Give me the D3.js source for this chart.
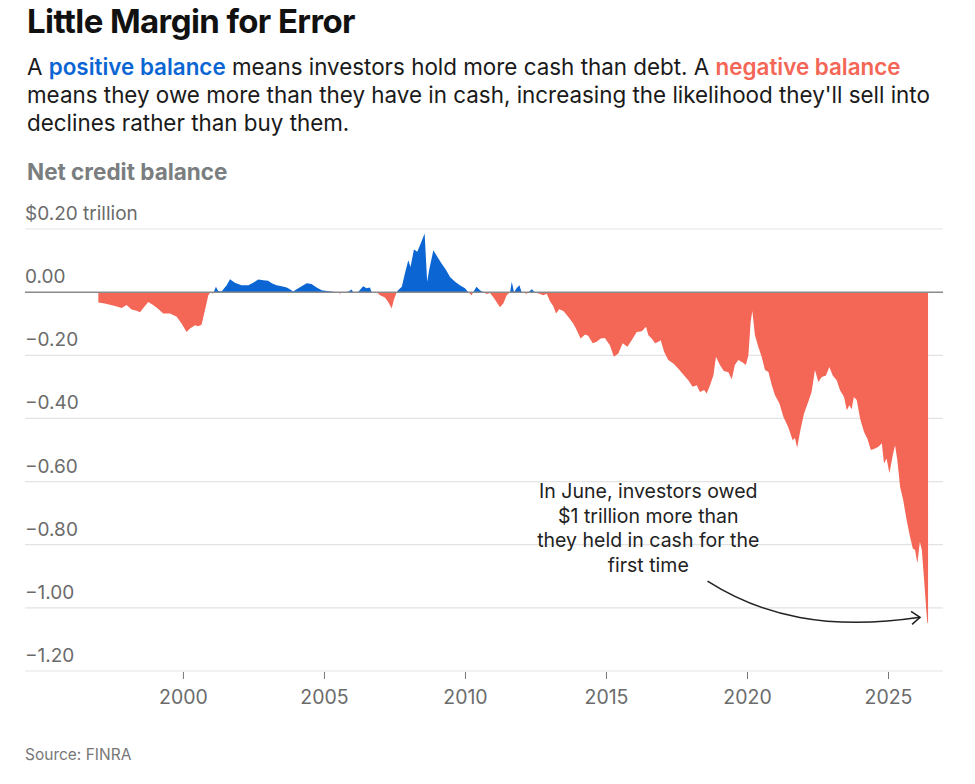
<!DOCTYPE html>
<html>
<head>
<meta charset="utf-8">
<script src="https://cdn.jsdelivr.net/npm/d3@7"></script>
<style>
  body { margin: 0; background: #fff; }
  svg { display: block; font-family: Inter, Roboto, "Noto Sans", sans-serif; }
</style>
</head>
<body>
<svg id="chart" width="975" height="784"></svg>
<script>
// monthly-ish readings of the net credit balance, $ trillion
const years = [
  1997.00, 1997.23, 1997.59, 1997.83, 1998.00, 1998.18, 1998.36, 1998.48, 1998.58, 1998.77,
  1998.94, 1999.11, 1999.30, 1999.54, 1999.78, 1999.95, 2000.13, 2000.25, 2000.43, 2000.54,
  2000.66, 2000.78, 2000.90, 2000.98, 2001.07, 2001.17, 2001.25, 2001.37, 2001.55, 2001.67,
  2001.84, 2002.08, 2002.32, 2002.49, 2002.67, 2002.85, 2003.02, 2003.15, 2003.32, 2003.50,
  2003.68, 2003.79, 2003.91, 2004.03, 2004.21, 2004.39, 2004.56, 2004.74, 2004.92, 2005.10,
  2005.27, 2005.45, 2005.57, 2005.68, 2005.86, 2005.98, 2006.04, 2006.22, 2006.39, 2006.51,
  2006.63, 2006.69, 2006.87, 2006.99, 2007.16, 2007.28, 2007.40, 2007.48, 2007.58, 2007.63,
  2007.76, 2007.87, 2007.99, 2008.07, 2008.19, 2008.31, 2008.43, 2008.57, 2008.62, 2008.66,
  2008.73, 2008.88, 2009.02, 2009.17, 2009.33, 2009.47, 2009.65, 2009.82, 2010.00, 2010.12,
  2010.24, 2010.29, 2010.41, 2010.53, 2010.65, 2010.77, 2010.89, 2011.00, 2011.12, 2011.24,
  2011.36, 2011.48, 2011.60, 2011.66, 2011.74, 2011.83, 2011.93, 2012.01, 2012.19, 2012.37,
  2012.48, 2012.66, 2012.78, 2012.90, 2013.01, 2013.13, 2013.23, 2013.34, 2013.49, 2013.66,
  2013.84, 2013.96, 2014.10, 2014.26, 2014.37, 2014.53, 2014.67, 2014.81, 2014.96, 2015.14,
  2015.28, 2015.44, 2015.59, 2015.76, 2015.91, 2016.09, 2016.27, 2016.42, 2016.50, 2016.62,
  2016.74, 2016.86, 2016.94, 2017.06, 2017.21, 2017.39, 2017.56, 2017.74, 2017.92, 2018.07,
  2018.22, 2018.33, 2018.48, 2018.57, 2018.69, 2018.81, 2018.90, 2019.04, 2019.18, 2019.34,
  2019.46, 2019.57, 2019.69, 2019.85, 2019.96, 2020.05, 2020.13, 2020.19, 2020.28, 2020.40,
  2020.52, 2020.64, 2020.76, 2020.88, 2020.99, 2021.15, 2021.29, 2021.46, 2021.62, 2021.70,
  2021.78, 2021.88, 2022.02, 2022.17, 2022.29, 2022.41, 2022.53, 2022.65, 2022.80, 2022.92,
  2023.04, 2023.18, 2023.30, 2023.44, 2023.54, 2023.63, 2023.71, 2023.79, 2023.89, 2024.01,
  2024.15, 2024.27, 2024.39, 2024.54, 2024.66, 2024.78, 2024.86, 2024.95, 2025.05, 2025.17,
  2025.25, 2025.33, 2025.43, 2025.54, 2025.66, 2025.78, 2025.88, 2025.96, 2026.04, 2026.13,
  2026.20, 2026.28, 2026.35, 2026.39, 2026.42
]
const balance = [
  -0.033, -0.036, -0.044, -0.050, -0.041, -0.055, -0.059, -0.064, -0.052, -0.031,
  -0.041, -0.052, -0.068, -0.068, -0.078, -0.099, -0.126, -0.115, -0.105, -0.108,
  -0.103, -0.057, -0.010, 0.000, -0.005, 0.017, 0.004, 0.002, 0.022, 0.041,
  0.030, 0.022, 0.022, 0.030, 0.040, 0.038, 0.036, 0.028, 0.022, 0.019,
  0.015, 0.009, 0.002, 0.009, 0.019, 0.028, 0.026, 0.015, 0.006, 0.004,
  0.002, 0.000, -0.004, 0.000, 0.001, 0.008, 0.000, 0.001, 0.019, 0.012,
  0.015, 0.000, 0.000, -0.010, -0.017, -0.031, -0.052, -0.024, 0.000, 0.006,
  0.017, 0.059, 0.101, 0.080, 0.135, 0.128, 0.154, 0.186, 0.101, 0.033,
  0.070, 0.133, 0.112, 0.091, 0.070, 0.048, 0.033, 0.022, 0.012, 0.000,
  -0.010, 0.000, 0.017, 0.006, 0.000, -0.006, -0.003, -0.015, -0.031, -0.048,
  -0.036, -0.010, 0.000, 0.033, 0.000, 0.012, 0.022, 0.000, -0.005, 0.009,
  0.000, -0.006, -0.010, -0.005, -0.028, -0.044, -0.068, -0.054, -0.060, -0.078,
  -0.099, -0.120, -0.147, -0.134, -0.138, -0.162, -0.157, -0.147, -0.145, -0.168,
  -0.205, -0.194, -0.162, -0.173, -0.152, -0.126, -0.124, -0.110, -0.136, -0.147,
  -0.162, -0.157, -0.152, -0.189, -0.215, -0.226, -0.242, -0.261, -0.279, -0.300,
  -0.295, -0.316, -0.310, -0.321, -0.295, -0.263, -0.205, -0.231, -0.250, -0.254,
  -0.276, -0.231, -0.215, -0.223, -0.231, -0.200, -0.094, -0.060, -0.136, -0.173,
  -0.205, -0.247, -0.253, -0.295, -0.326, -0.353, -0.395, -0.427, -0.469, -0.462,
  -0.493, -0.443, -0.385, -0.348, -0.316, -0.247, -0.285, -0.269, -0.264, -0.237,
  -0.264, -0.279, -0.311, -0.332, -0.374, -0.358, -0.371, -0.332, -0.342, -0.400,
  -0.443, -0.464, -0.500, -0.495, -0.490, -0.479, -0.543, -0.527, -0.574, -0.516,
  -0.485, -0.532, -0.617, -0.659, -0.722, -0.775, -0.812, -0.817, -0.859, -0.791,
  -0.817, -0.912, -0.997, -1.044, -1.050
]
const yTicks = [0.2, 0, -0.2, -0.4, -0.6, -0.8, -1.0, -1.2]
const xTicks = [2000, 2005, 2010, 2015, 2020, 2025]
const noteLines = ["In June, investors owed", "$1 trillion more than", "they held in cash for the", "first time"]

const blue = "#0b66d4", red = "#f46656"
const svg = d3.select("#chart")
const data = years.map(function(d, i){ return {year: d, v: balance[i]} })

const x = d3.scaleLinear().domain([1994.4, 2026.95]).range([25, 943])
const y = d3.scaleLinear().domain([-1.2, 0.2]).range([671, 229])

// header
svg.append("text").attr("x", 27).attr("y", 33)
  .style("font-size", "33px").style("font-weight", 700).style("fill", "#111")
  .style("letter-spacing", "-0.6px")
  .text("Little Margin for Error")

var sub = svg.append("g").style("font-size", "22.4px").style("fill", "#1a1a1a")
var l1 = sub.append("text").attr("x", 27).attr("y", 75)
l1.append("tspan").text("A ")
l1.append("tspan").style("fill", blue).style("font-weight", 600).text("positive balance")
l1.append("tspan").text(" means investors hold more cash than debt. A ")
l1.append("tspan").style("fill", red).style("font-weight", 600).text("negative balance")
sub.append("text").attr("x", 27).attr("y", 103)
  .text("means they owe more than they have in cash, increasing the likelihood they'll sell into")
sub.append("text").attr("x", 27).attr("y", 131)
  .text("declines rather than buy them.")

svg.append("text").attr("x", 27).attr("y", 180)
  .style("font-size", "22.5px").style("font-weight", 700).style("fill", "#7a7e80")
  .text("Net credit balance")

// grid
svg.append("g").selectAll("line").data(yTicks.filter(function(d){ return d !== 0 }))
  .enter().append("line")
  .attr("x1", 25).attr("x2", 943)
  .attr("y1", function(d){ return y(d) }).attr("y2", function(d){ return y(d) })
  .style("stroke", "#e3e3e3").style("stroke-width", 1.2)

var fmt = d3.format(".2f")
svg.append("g").selectAll("text").data(yTicks).enter().append("text")
  .attr("x", 25).attr("y", function(d){ return y(d) - 9 })
  .style("font-size", "19px").style("fill", "#6b6b6b")
  .text(function(d, i){
    var s = fmt(d).replace("-", "\u2212")
    return i === 0 ? "$" + s + " trillion" : s
  })

// area split into positive and negative parts
var area = d3.area().x(function(d){ return x(d.year) }).y0(y(0)).y1(function(d){ return y(d.v) })
var defs = svg.append("defs")
defs.append("clipPath").attr("id", "above").append("rect")
  .attr("x", 0).attr("y", 0).attr("width", 975).attr("height", y(0))
defs.append("clipPath").attr("id", "below").append("rect")
  .attr("x", 0).attr("y", y(0)).attr("width", 975).attr("height", 784 - y(0))

svg.append("path").datum(data).attr("d", area)
  .attr("clip-path", "url(#above)").style("fill", blue)
svg.append("path").datum(data).attr("d", area)
  .attr("clip-path", "url(#below)").style("fill", red)

// zero line
svg.append("line").attr("x1", 25).attr("x2", 943).attr("y1", y(0)).attr("y2", y(0))
  .style("stroke", "#8a8a8a").style("stroke-width", 1.5)

// x axis
var xAxis = d3.axisBottom(x).tickValues(xTicks).tickSize(7).tickPadding(11).tickFormat(d3.format("d"))
var gx = svg.append("g").attr("transform", "translate(0," + (y(-1.2) + 1) + ")").call(xAxis)
gx.select(".domain").remove()
gx.selectAll("line").style("stroke", "#777")
gx.selectAll("text").style("font-size", "19.5px").style("fill", "#6b6b6b").style("font-family", "Inter, Roboto, sans-serif")

// annotation
var noteX = 2016.5, noteY = -0.6525
svg.append("g").selectAll("text").data(noteLines).enter().append("text")
  .attr("x", x(noteX)).attr("y", function(d, i){ return y(noteY) + i * 24.5 })
  .attr("text-anchor", "middle")
  .style("font-size", "19.5px").style("fill", "#222")
  .text(function(d){ return d })

var last = data[data.length - 1]
var ax0 = x(2018.6), ay0 = y(-0.915)
var ax1 = x(last.year) - 8, ay1 = y(-1.03)
var p = d3.path()
p.moveTo(ax0, ay0)
p.bezierCurveTo(ax0 + 55, ay0 + 35, ax0 + 120, ay0 + 50, ax1, ay1)
svg.append("path").attr("d", p.toString())
  .style("fill", "none").style("stroke", "#222").style("stroke-width", 1.5)
svg.append("path")
  .attr("d", "M" + (ax1 - 9) + "," + (ay1 - 6) + "L" + ax1 + "," + ay1 + "L" + (ax1 - 8) + "," + (ay1 + 7))
  .style("fill", "none").style("stroke", "#222").style("stroke-width", 1.5)

svg.append("text").attr("x", 25).attr("y", 760)
  .style("font-size", "15.5px").style("fill", "#777")
  .text("Source: FINRA")
</script>
</body>
</html>
